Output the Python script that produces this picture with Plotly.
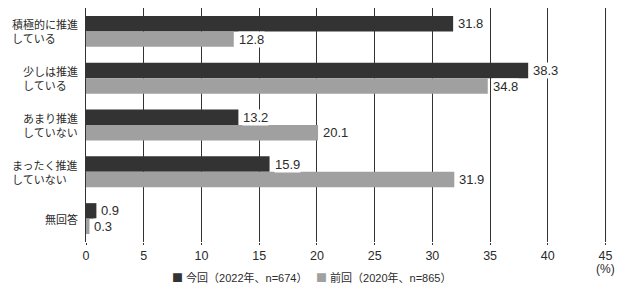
import plotly.graph_objects as go

categories = ["積極的に推進<br>している", "少しは推進<br>している", "あまり推進<br>していない",
              "まったく推進<br>していない", "無回答"]
current_values = [31.8, 38.3, 13.2, 15.9, 0.9]
previous_values = [12.8, 34.8, 20.1, 31.9, 0.3]
series_names = ["今回（2022年、n=674）", "前回（2020年、n=865）"]
x_ticks = [0, 5, 10, 15, 20, 25, 30, 35, 40, 45]
x_unit = "(%)"

DARK = "#333333"
GRAY = "#a0a0a0"
TXT = "#2b2b2b"
LATIN = "Liberation Sans, Arial, sans-serif"
CJK = "Liberation Sans, Noto Sans CJK JP, sans-serif"

series = [(series_names[0], current_values, DARK, -7.8),
          (series_names[1], previous_values, GRAY, 7.8)]

fig = go.Figure()
for name, vals, col, _ in series:
    fig.add_trace(go.Bar(
        y=categories, x=vals, orientation="h", name=name,
        marker=dict(color=col, line=dict(width=0)),
    ))

fig.update_layout(
    width=640, height=290,
    margin=dict(l=86, r=31, t=8, b=48),
    barmode="group", bargap=0.34, bargroupgap=0,
    plot_bgcolor="white", paper_bgcolor="white",
    showlegend=False,
    xaxis=dict(range=[0, 45.3], tickvals=x_ticks, showgrid=True,
               gridcolor=DARK, gridwidth=1, zeroline=False,
               showline=False, ticks="outside", ticklen=2, tickcolor=DARK,
               tickfont=dict(family=LATIN, size=12.5, color=TXT)),
    yaxis=dict(autorange="reversed", showticklabels=False, showgrid=False,
               zeroline=False, showline=True,
               linecolor=DARK, linewidth=1),
)

# last grid line at the top tick value
fig.add_shape(type="line", xref="x", yref="paper", x0=x_ticks[-1], x1=x_ticks[-1],
              y0=0, y1=1, line=dict(color=DARK, width=1), layer="above")

# value labels with white backing (covers gridlines like the reference)
for name, vals, col, dy in series:
    for c, v in zip(categories, vals):
        fig.add_annotation(x=v, xref="x", y=c, yref="y", text=f"{v:.1f}",
                           showarrow=False, xanchor="left", yanchor="middle",
                           xshift=4, yshift=-dy, bgcolor="white", borderpad=0,
                           font=dict(family=LATIN, size=13, color=TXT))

for c in categories:
    fig.add_annotation(x=0, xref="paper", y=c, yref="y", text=c,
                       showarrow=False, xanchor="right", yanchor="middle",
                       align="left", xshift=-6,
                       font=dict(family="Noto Sans CJK JP, sans-serif", size=11, color=TXT))

fig.add_annotation(x=45, xref="x", y=-0.117, yref="paper", text=x_unit,
                   showarrow=False, xanchor="center", yanchor="middle",
                   font=dict(family=LATIN, size=12, color=TXT))

for i, (name, vals, col, _) in enumerate(series):
    xs = [0.161, 0.436][i]
    fig.add_annotation(x=xs, xref="paper", y=-0.1496, yref="paper",
                       text=(f'<span style="color:{col};font-family:Noto Sans CJK JP;'
                             f'font-size:11px">■</span> {name}'),
                       showarrow=False, xanchor="left", yanchor="middle",
                       font=dict(family=CJK, size=11, color=TXT))

fig.write_html("out.html")
